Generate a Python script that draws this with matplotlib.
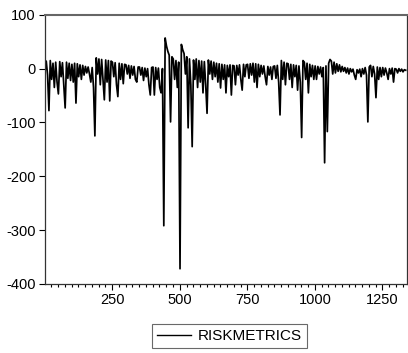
import matplotlib.pyplot as plt
from matplotlib.ticker import MultipleLocator
import numpy as np

plt.rcParams['font.family'] = ['Liberation Sans', 'DejaVu Sans']
plt.rcParams['axes.unicode_minus'] = False

# observation index: every 5th point, starting at 1
STEP = 5
START = 1

riskmetrics = [
    -8, 14, -12, -78, 15, -20, 10, -35, 12, -25,
    -47, 13, -15, 11, -30, -73, 12, -18, 10, -22,
    8, -25, 10, -64, 9, -15, 7, -20, 6, -12,
    4, -8, 3, -10, -25, 2, -35, -125, 20, -10,
    18, -30, 17, -20, -58, 16, -25, 15, -60, 14,
    12, -15, 11, -30, -52, 10, -20, 9, -28, 8,
    7, -10, 6, -18, 5, -12, 4, -20, -25, 3,
    3, -12, 2, -22, 1, -15, 0, -30, -49, 2,
    3, -49, 2, -20, 1, -35, -45, 0, -292, 57,
    42, 32, 25, -99, 22, 18, -20, 15, -35, 12,
    -372, 45, 35, 28, -10, 22, -110, 18, -30, -145,
    16, -20, 18, -35, 15, -25, 14, -45, 13, -30,
    -83, 16, -10, 14, -20, 12, -15, 10, -25, 9,
    -36, 8, -20, 7, -45, 6, -15, 7, -49, 6,
    5, -30, 6, -12, 7, -20, -40, 8, -15, 7,
    8, -18, 9, -12, 10, -25, 9, -35, 8, -15,
    6, -10, 5, -15, -30, 4, -12, 3, -20, 4,
    5, -18, 6, -25, -86, 15, -20, 12, -30, 10,
    9, -20, 8, -35, 7, -15, 6, -40, 5, -25,
    -128, 15, 12, -20, 10, -45, 8, -15, 6, -20,
    5, -20, 4, -10, 3, -15, 2, -175, 5, -117,
    10, 17, 14, -10, 12, -8, 9, -5, 7, -6,
    4, -5, 2, -8, 1, -10, 0, -6, -1, -12,
    -20, -2, -8, -1, -15, 0, -10, 2, -12, -99,
    3, 6, -15, 4, -10, -54, 3, -20, 2, -15,
    2, -12, 1, -8, -20, 0, -10, 1, -25, 0,
    -1, -8, 0, -5, -1, -6, -2, -3,
]
obs = START + STEP * np.arange(len(riskmetrics))

fig = plt.figure(figsize=(4.08, 3.53), dpi=100)
ax = fig.add_axes([0.110, 0.196, 0.887, 0.762])

ax.plot(obs, riskmetrics, color='black', linewidth=1.25, label='RISKMETRICS')

ax.set_xlim(1, 1340)
ax.set_ylim(-400, 100)
ax.xaxis.set_major_locator(MultipleLocator(250))
ax.xaxis.set_minor_locator(MultipleLocator(25))
ax.yaxis.set_major_locator(MultipleLocator(100))
ax.tick_params(axis='both', which='major', direction='out', length=4,
               width=0.8, labelsize=10.5, colors='black', pad=2.5)
ax.tick_params(axis='x', which='minor', direction='out', length=2.5, width=0.8)
for side in ['left', 'bottom', 'right']:
    ax.spines[side].set_color('#333333')
    ax.spines[side].set_linewidth(0.9)
ax.spines['top'].set_color('#666666')
ax.spines['top'].set_linewidth(1.5)

leg = fig.legend(loc='center', bbox_to_anchor=(0.562, 0.048), ncol=1,
                 fontsize=11, frameon=True, fancybox=False,
                 handlelength=2.2, handletextpad=0.45, borderpad=0.35)
leg.get_frame().set_edgecolor('#444444')
leg.get_frame().set_linewidth(0.8)
for line in leg.get_lines():
    line.set_linewidth(1.0)

fig.savefig('out.png', dpi=100)
